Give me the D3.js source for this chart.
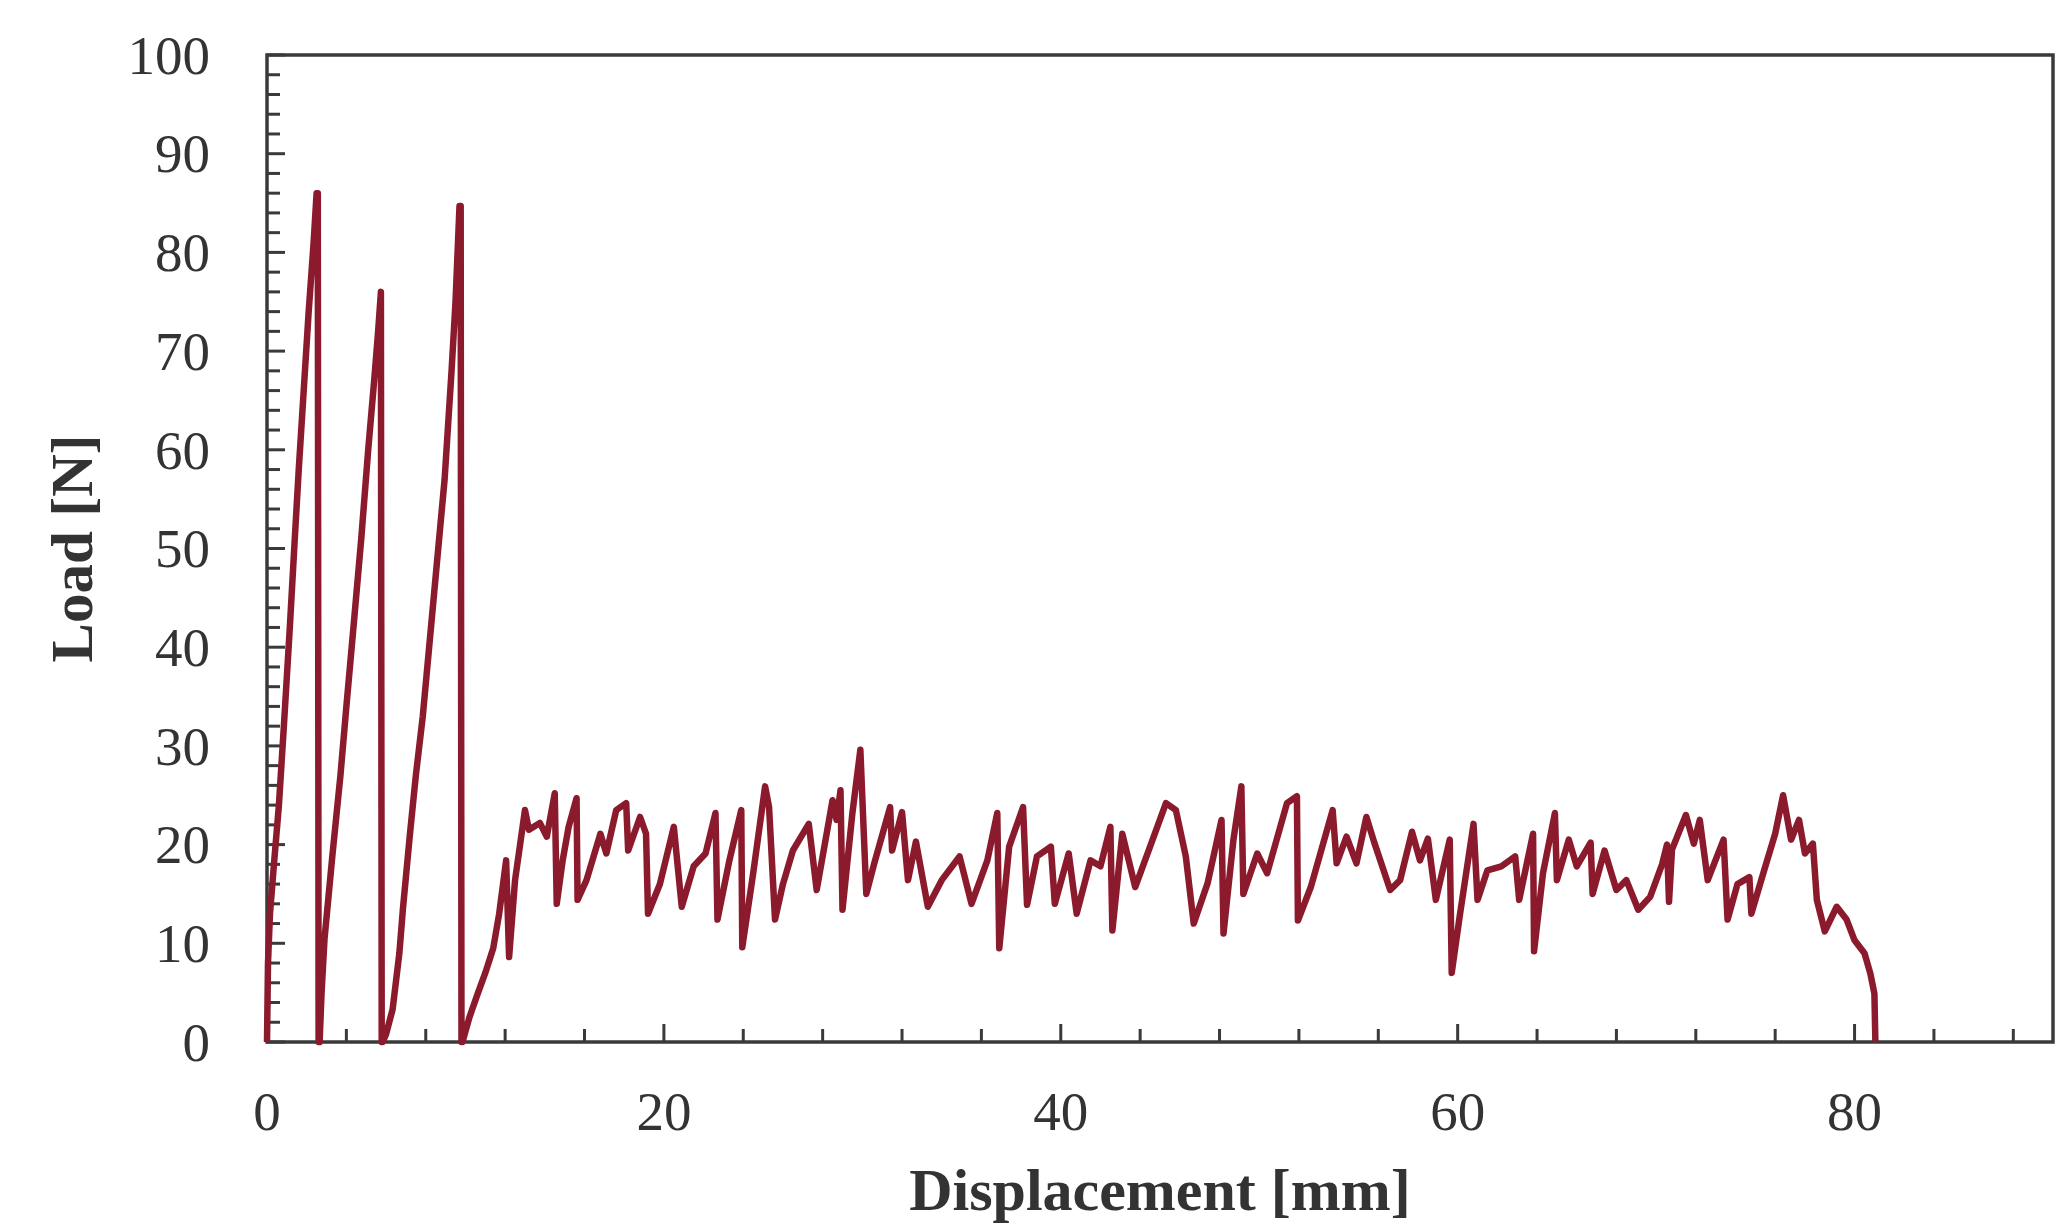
<!DOCTYPE html>
<html>
<head>
<meta charset="utf-8">
<script src="https://cdn.jsdelivr.net/npm/d3@7"></script>
<style>
	body { margin: 0; background: #ffffff; }
</style>
</head>
<body>
<div id="chart"></div>
<script>
	// displacement [mm] and load [N]
	const displacement = [
		0, 0.05, 0.15, 0.35, 0.6, 0.85, 1.15, 1.4, 1.6, 1.85, 2.1, 2.35, 2.5, 2.56, 2.6,
		2.65, 2.75, 2.9, 3.3, 3.7, 4.0, 4.4, 4.75, 5.1, 5.4, 5.6, 5.74, 5.78,
		5.83, 6.0, 6.33, 6.67, 6.85, 7.2, 7.5, 7.85, 8.4, 8.95, 9.3, 9.5, 9.7, 9.76, 9.8,
		9.85, 10.2, 10.6, 11.0, 11.4, 11.7, 12.05, 12.2, 12.5, 13.0, 13.2, 13.75, 14.1, 14.5, 14.6, 14.9,
		15.2, 15.6, 15.65, 16.1, 16.8, 17.1, 17.6, 18.1, 18.2, 18.8, 19.1, 19.2, 19.8, 20.5, 20.9,
		21.5, 22.1, 22.6, 22.7, 23.3, 23.9, 23.95, 24.5, 25.1, 25.3, 25.6, 26.0, 26.5, 27.3, 27.7,
		28.5, 28.7, 28.9, 29.0, 29.5, 29.9, 30.2, 30.6, 31.4, 31.5, 32.0, 32.3, 32.7, 33.3, 34.0,
		34.9, 35.5, 36.3, 36.8, 36.9, 37.4, 38.1, 38.3, 38.8, 39.5, 39.7, 40.4, 40.8, 41.5, 42.0,
		42.5, 42.6, 43.1, 43.75, 44.5, 45.3, 45.8, 46.3, 46.7, 47.4, 48.1, 48.2, 48.7, 49.1, 49.2,
		49.9, 50.4, 51.4, 51.9, 51.95, 52.6, 53.7, 53.9, 54.4, 54.9, 55.4, 55.8, 56.6, 57.1, 57.7,
		58.1, 58.5, 58.9, 59.6, 59.7, 60.1, 60.8, 61.0, 61.5, 62.2, 62.9, 63.1, 63.8, 63.85, 64.3,
		64.9, 65.0, 65.6, 66.0, 66.7, 66.8, 67.4, 68.0, 68.5, 69.1, 69.7, 70.3, 70.55, 70.65, 70.8,
		71.5, 71.9, 72.2, 72.6, 73.4, 73.6, 74.1, 74.7, 74.8, 75.4, 76.0, 76.4, 76.8, 77.2, 77.5,
		77.9, 78.1, 78.5, 79.1, 79.6, 80.0, 80.5, 80.8, 81.0, 81.05
	];
	const load = [
		0, 8, 13, 18, 24, 32, 42, 51, 58, 66, 74, 81, 86, 86, 0,
		0, 5, 10.5, 19, 27, 34, 43, 51, 60, 67, 72, 76, 0,
		0, 0.8, 3.3, 9, 13.5, 21, 27, 33, 45, 57, 68, 75, 84.7, 84.7, 0,
		0, 2.5, 4.8, 7, 9.5, 13, 18.4, 8.6, 16.4, 23.5, 21.5, 22.2, 20.8, 25.2, 14.0, 18.4,
		21.8, 24.7, 14.4, 16.4, 21.1, 19.1, 23.5, 24.2, 19.4, 22.8, 21.1, 13.0, 16.0, 21.8, 13.7,
		17.8, 19.1, 23.2, 12.4, 18.4, 23.5, 9.6, 17.1, 25.9, 23.8, 12.4, 16.0, 19.4, 22.1, 15.4,
		24.5, 22.5, 25.5, 13.4, 23.2, 29.6, 15.0, 18.1, 23.8, 19.4, 23.3, 16.4, 20.3, 13.7, 16.4,
		18.8, 14.0, 18.4, 23.2, 9.5, 19.8, 23.8, 13.9, 18.8, 19.8, 14.0, 19.1, 13.0, 18.4, 17.8,
		21.8, 11.3, 21.1, 15.7, 19.8, 24.2, 23.5, 18.8, 12.0, 16.1, 22.5, 11.0, 20.5, 25.9, 15.0,
		19.1, 17.1, 24.2, 24.9, 12.3, 15.7, 23.5, 18.1, 20.8, 18.1, 22.8, 20.2, 15.4, 16.4, 21.3,
		18.4, 20.6, 14.4, 20.5, 7.0, 12.7, 22.1, 14.4, 17.4, 17.8, 18.8, 14.4, 21.1, 9.2, 17.1,
		23.2, 16.4, 20.5, 17.8, 20.2, 15.0, 19.4, 15.4, 16.4, 13.4, 14.7, 18, 20, 14.2, 19.5,
		23.0, 20.1, 22.5, 16.4, 20.5, 12.4, 16.0, 16.7, 13.0, 17.1, 21.1, 25.0, 20.5, 22.5, 19.1,
		20.1, 14.4, 11.2, 13.7, 12.4, 10.3, 9.0, 6.9, 4.9, 0
	];
	const xDomain = [0, 90];
	const yDomain = [0, 100];
	const xTicks = d3.range(0, 89, 4);
	const xLabels = [0, 20, 40, 60, 80];
	const yTicks = d3.range(0, 101, 2);
	const yLabels = d3.range(0, 101, 10);

	const margin = { top: 55, right: 7, bottom: 182, left: 267 };
	const width = 2060 - margin.left - margin.right;
	const height = 1224 - margin.top - margin.bottom;

	const lineColor = '#8c1a2d';
	const axisColor = '#3a3a3a';
	const textColor = '#333333';
	const font = '"Liberation Serif", "Times New Roman", serif';

	const svg = d3.select('#chart')
		.append('svg')
		.attr('width', 2060)
		.attr('height', 1224);

	const chart = svg.append('g')
		.attr('transform', `translate(${margin.left}, ${margin.top})`);

	const x = d3.scaleLinear().domain(xDomain).range([0, width]);
	const y = d3.scaleLinear().domain(yDomain).range([height, 0]);

	// inward ticks
	chart.append('g')
		.selectAll('line')
		.data(yTicks)
		.enter()
		.append('line')
		.attr('x1', 0)
		.attr('x2', d => d % 10 === 0 ? 18 : 13)
		.attr('y1', d => y(d))
		.attr('y2', d => y(d))
		.attr('stroke', axisColor)
		.attr('stroke-width', 3);

	chart.append('g')
		.selectAll('line')
		.data(xTicks)
		.enter()
		.append('line')
		.attr('x1', d => x(d))
		.attr('x2', d => x(d))
		.attr('y1', height)
		.attr('y2', d => height - (d % 20 === 0 ? 18 : 13))
		.attr('stroke', axisColor)
		.attr('stroke-width', 3);

	// frame
	chart.append('rect')
		.attr('x', 0)
		.attr('y', 0)
		.attr('width', width)
		.attr('height', height)
		.attr('fill', 'none')
		.attr('stroke', axisColor)
		.attr('stroke-width', 3.5);

	// tick labels
	chart.append('g')
		.selectAll('text')
		.data(yLabels)
		.enter()
		.append('text')
		.attr('x', -57)
		.attr('y', d => y(d))
		.attr('dy', '0.34em')
		.attr('text-anchor', 'end')
		.style('font-family', font)
		.style('font-size', '55px')
		.style('fill', textColor)
		.text(d => d);

	chart.append('g')
		.selectAll('text')
		.data(xLabels)
		.enter()
		.append('text')
		.attr('x', d => x(d))
		.attr('y', height + 88)
		.attr('text-anchor', 'middle')
		.style('font-family', font)
		.style('font-size', '55px')
		.style('fill', textColor)
		.text(d => d);

	// axis titles
	chart.append('text')
		.attr('x', width / 2)
		.attr('y', height + 168)
		.attr('text-anchor', 'middle')
		.style('font-family', font)
		.style('font-size', '60px')
		.style('font-weight', 'bold')
		.style('fill', textColor)
		.text('Displacement [mm]');

	chart.append('text')
		.attr('transform', `translate(${92 - margin.left}, ${height / 2}) rotate(-90)`)
		.attr('text-anchor', 'middle')
		.style('font-family', font)
		.style('font-size', '59px')
		.style('font-weight', 'bold')
		.style('fill', textColor)
		.text('Load [N]');

	// load curve
	const points = displacement.map((d, i) => [d, load[i]]);
	const line = d3.line()
		.x(d => x(d[0]))
		.y(d => y(d[1]));

	chart.append('path')
		.datum(points)
		.attr('d', line)
		.attr('fill', 'none')
		.attr('stroke', lineColor)
		.attr('stroke-width', 6.5)
		.attr('stroke-linejoin', 'round');
</script>
</body>
</html>
